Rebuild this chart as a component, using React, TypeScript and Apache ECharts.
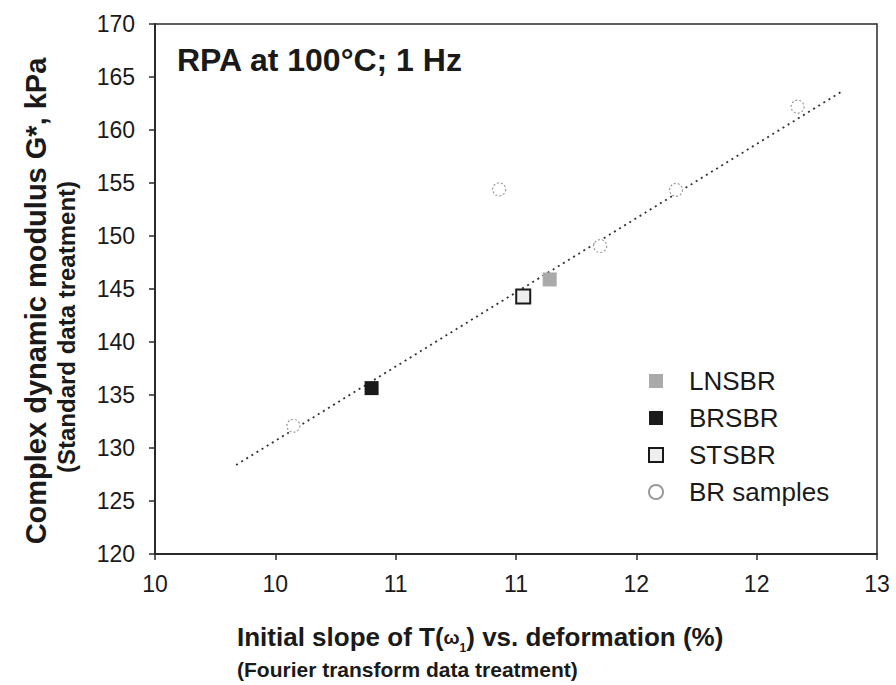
import React, { useEffect, useRef } from "react";
import * as echarts from "echarts";

const lnsbr: [number, number][] = [[11.64, 145.9]];
const brsbr: [number, number][] = [[10.9, 135.65]];
const stsbr: [number, number][] = [[11.53, 144.3]];
const brSamples: [number, number][] = [
  [10.575, 132.1],
  [11.43, 154.4],
  [11.85, 149.05],
  [12.165, 154.35],
  [12.67, 162.2],
];
const trendLine: [number, number][] = [
  [10.337, 128.4],
  [12.855, 163.65],
];
const xTickLabels: Record<string, string> = {
  "10": "10",
  "10.5": "10",
  "11": "11",
  "11.5": "11",
  "12": "12",
  "12.5": "12",
  "13": "13",
};

export default function App() {
  const ref = useRef<HTMLDivElement>(null);
  useEffect(() => {
    if (!ref.current) return;
    const chart = echarts.init(ref.current, undefined, { renderer: "svg" });
    const font = "Liberation Sans, Arial, sans-serif";
    const ink = "#1a1a1a";
    chart.setOption({
      animation: false,
      backgroundColor: "#fff",
      textStyle: { fontFamily: font },
      grid: {
        left: 155,
        right: 19,
        top: 24,
        bottom: 131,
        containLabel: false,
        outerBoundsMode: "none",
        show: true,
        borderColor: "#2a2a2a",
        borderWidth: 1.5,
        backgroundColor: "transparent",
      },
      title: {
        text: "RPA at 100°C; 1 Hz",
        left: 177,
        top: 44,
        padding: 0,
        textStyle: { fontSize: 32, fontWeight: "bold", color: ink, fontFamily: font },
      },
      legend: {
        orient: "vertical",
        left: 648,
        top: 368,
        padding: 0,
        itemWidth: 14,
        itemHeight: 14,
        itemGap: 11,
        textStyle: { fontSize: 26, lineHeight: 26, color: ink, padding: [0, 0, 0, 21], fontFamily: font },
        data: ["LNSBR", "BRSBR", "STSBR", "BR samples"],
      },
      xAxis: {
        type: "value",
        min: 10,
        max: 13,
        interval: 0.5,
        splitLine: { show: false },
        axisLine: { onZero: false, lineStyle: { color: "#2a2a2a", width: 2 } },
        axisTick: { inside: false, length: 6, lineStyle: { color: "#2a2a2a", width: 1.5 } },
        axisLabel: {
          fontSize: 23,
          color: ink,
          margin: 18,
          formatter: (v: number) => xTickLabels[String(v)] ?? String(v),
        },
        name: "{a|Initial slope of T(}{w|ω}{s|1}{a|) vs. deformation (%)}\n{b|(Fourier transform data treatment)}",
        nameLocation: "start",
        nameGap: -82,
        nameTextStyle: {
          align: "left",
          verticalAlign: "top",
          padding: [66, 0, 0, 0],
          rich: {
            a: { fontSize: 26, fontWeight: "bold", color: ink, lineHeight: 34, fontFamily: font },
            w: { fontSize: 19, fontWeight: "bold", color: ink, lineHeight: 34, fontFamily: font },
            s: { fontSize: 12, fontWeight: "bold", color: ink, lineHeight: 34, verticalAlign: "bottom", fontFamily: font },
            b: { fontSize: 21, fontWeight: "bold", color: ink, lineHeight: 30, fontFamily: font },
          },
        },
      },
      yAxis: {
        type: "value",
        min: 120,
        max: 170,
        interval: 5,
        splitLine: { show: false },
        axisLine: { onZero: false, lineStyle: { color: "#2a2a2a", width: 2 } },
        axisTick: { inside: false, length: 6, lineStyle: { color: "#2a2a2a", width: 1.5 } },
        axisLabel: { fontSize: 23, color: ink, margin: 20 },
        name: "{a|Complex dynamic modulus G*, kPa}\n{b|(Standard data treatment)}",
        nameLocation: "middle",
        nameGap: 75,
        nameTextStyle: {
          rich: {
            a: { fontSize: 29, fontWeight: "bold", color: ink, lineHeight: 32, fontFamily: font, padding: [0, 24, 0, 0] },
            b: { fontSize: 24, fontWeight: "bold", color: ink, lineHeight: 28, fontFamily: font, padding: [0, 76, 0, 0] },
          },
        },
      },
      series: [
        {
          name: "trend",
          type: "line",
          data: trendLine,
          symbol: "none",
          lineStyle: { type: [2, 4], color: "#333", width: 1.8 },
          silent: true,
          z: 1,
        },
        {
          name: "LNSBR",
          type: "scatter",
          data: lnsbr,
          symbol: "rect",
          symbolSize: 14,
          itemStyle: { color: "#aaaaaa", opacity: 1 },
          z: 3,
        },
        {
          name: "BRSBR",
          type: "scatter",
          data: brsbr,
          symbol: "rect",
          symbolSize: 14,
          itemStyle: { color: ink, opacity: 1 },
          z: 3,
        },
        {
          name: "STSBR",
          type: "scatter",
          data: stsbr,
          symbol: "rect",
          symbolSize: 14,
          itemStyle: { color: "#eeeeee", borderColor: ink, borderWidth: 2, opacity: 1 },
          z: 3,
        },
        {
          name: "BR samples",
          type: "scatter",
          data: brSamples,
          symbol: "circle",
          symbolSize: 13,
          itemStyle: {
            color: "#ffffff",
            borderColor: "#9a9a9a",
            borderWidth: 1.2,
            borderType: [2, 2],
            opacity: 1,
          },
          z: 3,
        },
      ],
    });
    return () => chart.dispose();
  }, []);
  return (
    <div
      ref={ref}
      style={{ position: "absolute", left: 0, top: 0, width: 896, height: 685 }}
    />
  );
}
